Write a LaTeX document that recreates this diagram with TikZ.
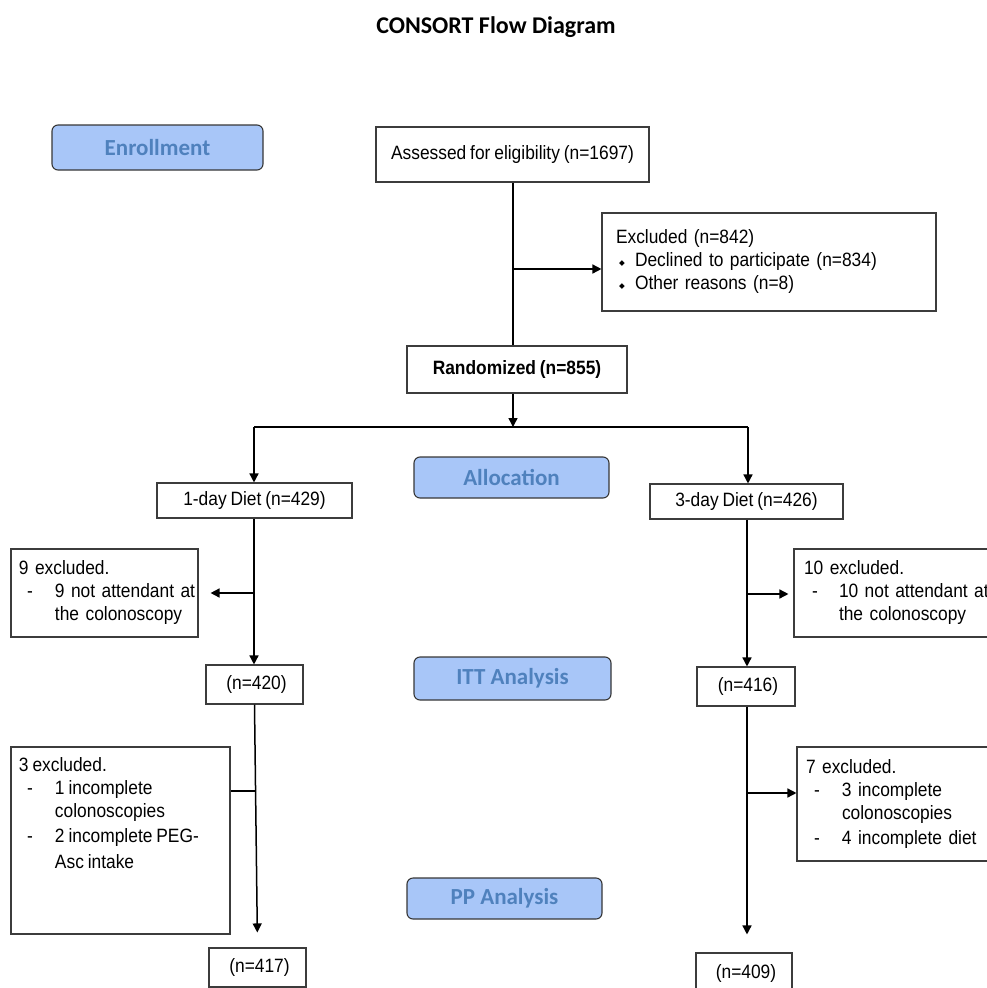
\documentclass[tikz,border=0pt]{standalone}
\usepackage{fontspec}
\setmainfont{Liberation Sans}[FakeStretch=0.9, WordSpace=0.8]
\newfontfamily\calibrifont{Carlito}
\newfontfamily\dejavufont{DejaVu Sans}
\usetikzlibrary{arrows.meta}
\definecolor{phasefill}{RGB}{168,198,248}
\definecolor{phasetext}{RGB}{79,129,189}
\definecolor{phaseline}{RGB}{55,55,55}
\definecolor{boxline}{RGB}{60,60,60}
\newcommand{\dbul}{\makebox[19pt][l]{\hspace{3pt}\raisebox{1.5pt}{\dejavufont\fontsize{7.5}{7.5}\selectfont ◆}}}
\newcommand{\ddash}[1]{\makebox[#1][l]{\hspace{8pt}-}}
\newcommand{\oneline}[1]{\mbox{#1}}
\tikzset{
  box/.style={draw=boxline, line width=1.1pt, inner sep=0pt, align=center,
    font=\fontsize{19.3}{23}\selectfont},
  lbox/.style={box, align=left},
  phase/.style={draw=phaseline, fill=phasefill, rounded corners=6pt, line width=1.1pt,
    inner sep=0pt, text=phasetext, font=\calibrifont\bfseries\fontsize{23}{25}\selectfont},
  conn/.style={line width=1.5pt, black},
  arr/.style={conn, -{Triangle[length=9pt,width=9pt]}}
}
\begin{document}
\begin{tikzpicture}[x=1pt,y=-1pt]
\useasboundingbox (0,0) rectangle (987,988);
\node (title) at (496,27) {\calibrifont\bfseries\fontsize{24}{26}\selectfont CONSORT Flow Diagram};

% phase labels
\node[phase, minimum width=211pt, minimum height=45pt] (enroll) at (157.5,147.5) {Enrollment};
\node[phase, minimum width=195pt, minimum height=41pt] (alloc) at (511.5,477.5) {Allocation};
\node[phase, minimum width=197pt, minimum height=43pt] (itt) at (512.5,678.5) {ITT Analysis};
\node[phase, minimum width=195pt, minimum height=41pt] (pp) at (504.5,898.5) {PP Analysis};

% main boxes
\node[box, minimum width=273pt, minimum height=55pt] (assess) at (512.5,154.5) {Assessed for eligibility (n=1697)};
\node[lbox, inner xsep=14pt, text width=306pt, minimum height=98pt] (excl) at (769,262)
  {Excluded (n=842)\\ \oneline{\dbul Declined to participate (n=834)}\\ \oneline{\dbul Other reasons (n=8)}};
\node[box, minimum width=220pt, minimum height=47pt, font=\bfseries\fontsize{19.3}{23}\selectfont] (rand) at (517,369.5) {Randomized (n=855)};

\node[box, minimum width=195pt, minimum height=35pt] (d1) at (254.5,500.5) {1-day Diet (n=429)};
\node[box, minimum width=193pt, minimum height=35pt] (d3) at (746.5,501.5) {3-day Diet (n=426)};

\node[lbox, inner xsep=8pt, text width=171pt, minimum height=88pt] (ex9) at (104.5,593)
  {9 excluded.\\ \oneline{\ddash{36pt}9 not attendant at}\\ \oneline{\hspace*{36pt}the colonoscopy}};
\node[lbox, inner xsep=10pt, text width=186pt, minimum height=88pt] (ex10) at (897,593)
  {10 excluded.\\ \oneline{\ddash{35pt}10 not attendant at}\\ \oneline{\hspace*{35pt}the colonoscopy}};

\node[box, minimum width=97pt, minimum height=39pt] (n420) at (254.5,684.5) {\hspace*{4pt}(n=420)};
\node[box, minimum width=98pt, minimum height=39pt] (n416) at (746,686.5) {\hspace*{4pt}(n=416)};

\node[box, inner xsep=8pt, inner ysep=11pt] (ex3) at (120.5,840.5)
  {\parbox[c][165pt][t]{203pt}{\raggedright
   3 excluded.\\ \oneline{\ddash{36pt}1 incomplete}\\ \oneline{\hspace*{36pt}colonoscopies}\\[2pt]
   \oneline{\ddash{36pt}2 incomplete PEG-}\\[3pt] \oneline{\hspace*{36pt}Asc intake}}};
\node[lbox, inner xsep=9pt, text width=185pt, minimum height=114pt] (ex7) at (898.5,804)
  {7 excluded.\\ \oneline{\ddash{36pt}3 incomplete}\\ \oneline{\hspace*{36pt}colonoscopies}\\[2pt] \oneline{\ddash{36pt}4 incomplete diet}};

\node[box, minimum width=97pt, minimum height=39pt] (n417) at (257.5,967.5) {\hspace*{4pt}(n=417)};
\node[box, minimum width=96pt, minimum height=40pt] (n409) at (744,973) {\hspace*{4pt}(n=409)};

% junction coordinates
\coordinate (j1) at (513,269);
\coordinate (bar) at (513,427);
\coordinate (barL) at (254,427);
\coordinate (barR) at (748,427);
\coordinate (j2) at (254,593);
\coordinate (j3) at (747,594);
\coordinate (j4) at (255.5,791);
\coordinate (j5) at (747,793);

% connectors
\draw[conn] (assess.south -| j1) -- (j1 |- rand.north);
\draw[arr] (j1) -- (j1 -| excl.west);
\draw[arr] (bar |- rand.south) -- (bar);
\draw[conn] (barL) -- (barR);
\draw[arr] (barL) -- (barL |- d1.north);
\draw[arr] (barR) -- (barR |- d3.north);
\draw[arr] (d1.south -| j2) -- (j2 |- n420.north);
\draw[arr, shorten >=12pt] (j2) -- (j2 -| ex9.east);
\draw[arr] (d3.south -| j3) -- (j3 |- n416.north);
\draw[arr, shorten >=5pt] (j3) -- (j3 -| ex10.west);
\draw[arr, shorten >=15pt] (n420.south) -- (n417.north);
\draw[conn] (j4) -- (j4 -| ex3.east);
\draw[arr, shorten >=18pt] (n416.south -| j5) -- (j5 |- n409.north);
\draw[arr] (j5) -- (j5 -| ex7.west);
\end{tikzpicture}
\end{document}
